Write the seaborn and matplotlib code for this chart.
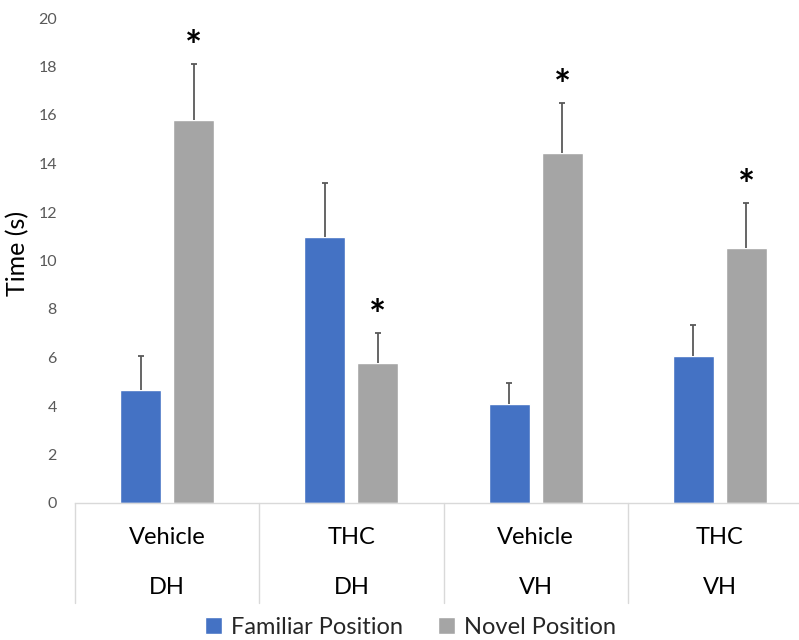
import matplotlib
matplotlib.use("Agg")
import matplotlib.pyplot as plt
import seaborn as sns
import pandas as pd
import numpy as np

# Treatment / region groups
treatments = ["Vehicle", "THC", "Vehicle", "THC"]
regions = ["DH", "DH", "VH", "VH"]

# Mean exploration time (s) and SEM per position
familiar = [4.66, 10.95, 4.10, 6.06]
familiar_sem = [1.39, 2.25, 0.86, 1.30]
novel = [15.79, 5.79, 14.43, 10.50]
novel_sem = [2.31, 1.21, 2.05, 1.88]

series = ["Familiar Position", "Novel Position"]
colors = ["#4472C4", "#A5A5A5"]
significant = [True, True, True, True]  # novel vs familiar

sns.set_theme(style="white")
plt.rcParams["font.family"] = ["Lato", "DejaVu Sans"]

groups = [f"{t} {r}" for t, r in zip(treatments, regions)]
df = pd.DataFrame({
    "group": groups * 2,
    "position": [series[0]] * 4 + [series[1]] * 4,
    "time": familiar + novel,
})

fig = plt.figure(figsize=(7.99, 6.40), dpi=100)
ax = fig.add_axes([75 / 799, 137 / 640, 737 / 799, 485 / 640])

sns.barplot(data=df, x="group", y="time", hue="position", order=groups,
            hue_order=series, palette=colors, width=0.575, gap=0.225,
            errorbar=None, saturation=1, ax=ax, legend=True)

# upward-only SEM bars on each bar
sems = [familiar_sem, novel_sem]
for cont, err in zip(ax.containers, sems):
    xs = [b.get_x() + b.get_width() / 2 for b in cont]
    hs = [b.get_height() for b in cont]
    eb = ax.errorbar(xs, hs, yerr=[np.zeros(len(err)), err], fmt="none",
                     ecolor="#595959", elinewidth=1.3, capsize=2.5,
                     capthick=1.3)
    eb[1][0].set_visible(False)  # no cap at the bar top
xs_novel = [b.get_x() + b.get_width() / 2 for b in ax.containers[1]]
for x, m, e, s in zip(xs_novel, novel, novel_sem, significant):
    if s:
        ax.text(x, m + e + 0.65, "*", ha="center", va="center",
                fontsize=29, fontweight="bold", color="black")

ax.set_ylim(0, 20)
ax.set_xlim(-0.5, 3.5)
ax.set_yticks(np.arange(0, 21, 2))
ax.tick_params(axis="y", length=0, pad=13, labelsize=11.5, labelcolor="#595959")
ax.tick_params(axis="x", length=0, labelbottom=False)
ax.set_xlabel("")
ax.set_ylabel("Time (s)", fontsize=18, color="black")
ax.yaxis.set_label_coords(-0.062, 0.515)

for side in ["top", "right", "left"]:
    ax.spines[side].set_visible(False)
ax.spines["bottom"].set_color("#D9D9D9")
ax.spines["bottom"].set_linewidth(1.0)

# two-level category axis
trans = ax.get_xaxis_transform()
for i, (t, r) in enumerate(zip(treatments, regions)):
    ax.text(i, -0.072, t, transform=trans, ha="center", va="center",
            fontsize=17, color="black")
    ax.text(i, -0.175, r, transform=trans, ha="center", va="center",
            fontsize=17, color="black")
for xb in np.arange(-0.5, 4.0, 1.0):
    ax.plot([xb, xb], [0, -0.206], transform=trans, color="#D9D9D9",
            lw=1.0, clip_on=False)

handles, labels = ax.get_legend_handles_labels()
ax.legend_.remove()
fig.legend(handles, labels, loc="center", bbox_to_anchor=(0.514, 0.02),
           ncol=2, frameon=False, fontsize=17, handlelength=0.7,
           handleheight=0.7, handletextpad=0.4, columnspacing=1.5)

fig.savefig("out.png", dpi=100)
